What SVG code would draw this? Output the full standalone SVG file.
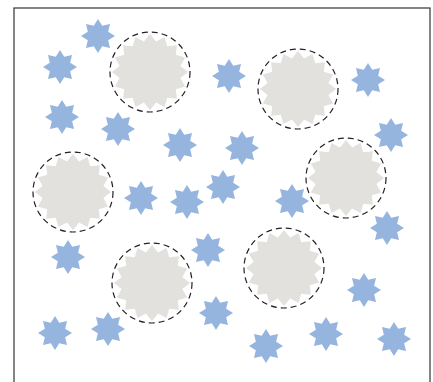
<svg xmlns="http://www.w3.org/2000/svg" xmlns:xlink="http://www.w3.org/1999/xlink" width="433" height="382" viewBox="0 0 433 382">
<style>
.frame{fill:#ffffff;stroke:#333333;stroke-width:1.2}
.blue{fill:#95b5df}
.gray{fill:#e3e1dd}
.ring{fill:none;stroke:#222222;stroke-width:1.2;stroke-dasharray:6 4}
</style>
<defs>
<path id="s8" d="M0,-17 L4.21,-10.16 L12.02,-12.02 L10.16,-4.21 L17,0 L10.16,4.21 L12.02,12.02 L4.21,10.16 L0,17 L-4.21,10.16 L-12.02,12.02 L-10.16,4.21 L-17,0 L-10.16,-4.21 L-12.02,-12.02 L-4.21,-10.16 Z"/>
<path id="s16" d="M0,-38 L6.05,-30.4 L14.54,-35.11 L17.22,-25.78 L26.87,-26.87 L25.78,-17.22 L35.11,-14.54 L30.4,-6.05 L38,0 L30.4,6.05 L35.11,14.54 L25.78,17.22 L26.87,26.87 L17.22,25.78 L14.54,35.11 L6.05,30.4 L0,38 L-6.05,30.4 L-14.54,35.11 L-17.22,25.78 L-26.87,26.87 L-25.78,17.22 L-35.11,14.54 L-30.4,6.05 L-38,0 L-30.4,-6.05 L-35.11,-14.54 L-25.78,-17.22 L-26.87,-26.87 L-17.22,-25.78 L-14.54,-35.11 L-6.05,-30.4 Z"/>
</defs>
<rect class="frame" x="14" y="8" width="416" height="390"/>
<g id="connectors"></g>
<g id="big1"><use xlink:href="#s16" href="#s16" class="gray" x="150" y="72"/><circle class="ring" cx="150" cy="72" r="40"/></g>
<g id="big2"><use xlink:href="#s16" href="#s16" class="gray" x="298" y="89"/><circle class="ring" cx="298" cy="89" r="40"/></g>
<g id="big3"><use xlink:href="#s16" href="#s16" class="gray" x="73" y="192"/><circle class="ring" cx="73" cy="192" r="40"/></g>
<g id="big4"><use xlink:href="#s16" href="#s16" class="gray" x="346" y="178"/><circle class="ring" cx="346" cy="178" r="40"/></g>
<g id="big5"><use xlink:href="#s16" href="#s16" class="gray" x="152" y="283"/><circle class="ring" cx="152" cy="283" r="40"/></g>
<g id="big6"><use xlink:href="#s16" href="#s16" class="gray" x="284" y="268"/><circle class="ring" cx="284" cy="268" r="40"/></g>
<g id="small" class="blue">
<use id="b1" href="#s8" x="98" y="36"/>
<use id="b2" href="#s8" x="60" y="67"/>
<use id="b3" href="#s8" x="229" y="76"/>
<use id="b4" href="#s8" x="368" y="80"/>
<use id="b5" href="#s8" x="62" y="117"/>
<use id="b6" href="#s8" x="118" y="129"/>
<use id="b7" href="#s8" x="180" y="145"/>
<use id="b8" href="#s8" x="242" y="148"/>
<use id="b9" href="#s8" x="391" y="135"/>
<use id="b10" href="#s8" x="141" y="198"/>
<use id="b11" href="#s8" x="187" y="202"/>
<use id="b12" href="#s8" x="223" y="187"/>
<use id="b13" href="#s8" x="292" y="201"/>
<use id="b14" href="#s8" x="387" y="228"/>
<use id="b15" href="#s8" x="68" y="257"/>
<use id="b16" href="#s8" x="208" y="250"/>
<use id="b17" href="#s8" x="364" y="290"/>
<use id="b18" href="#s8" x="216" y="313"/>
<use id="b19" href="#s8" x="55" y="333"/>
<use id="b20" href="#s8" x="108" y="329"/>
<use id="b21" href="#s8" x="266" y="346"/>
<use id="b22" href="#s8" x="326" y="334"/>
<use id="b23" href="#s8" x="394" y="339"/>
</g>
</svg>
